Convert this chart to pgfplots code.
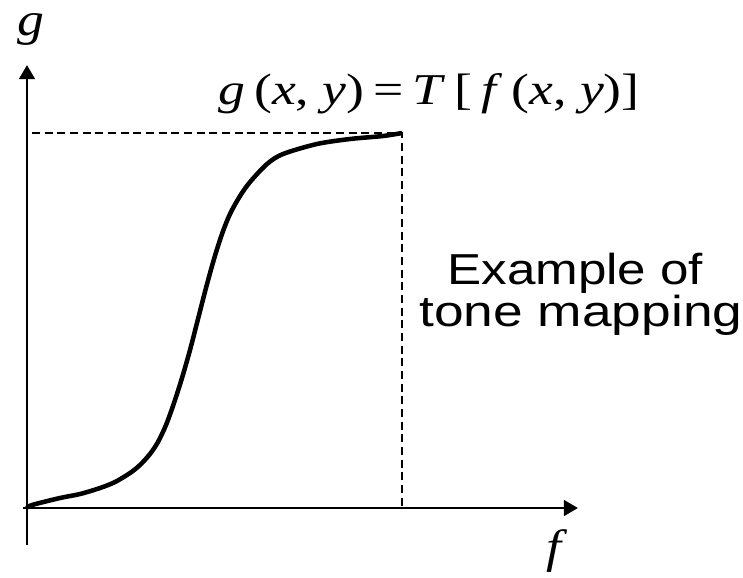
\documentclass[border=0pt]{standalone}
\usepackage{pgfplots}
\pgfplotsset{compat=1.18}
\usetikzlibrary{arrows.meta}
\usepackage{fontspec}
\setmainfont{Liberation Sans}
\newfontfamily\tmsfont{Liberation Serif}

% tone curve g = T[f], both normalised to [0,1]
\pgfplotstableread{
f       g
0.0000  0.0000
0.0133  0.0080
0.0880  0.0267
0.1413  0.0373
0.1947  0.0533
0.2347  0.0693
0.2747  0.0933
0.3013  0.1147
0.3280  0.1440
0.3493  0.1760
0.3707  0.2213
0.3920  0.2800
0.4133  0.3467
0.4347  0.4213
0.4560  0.5040
0.4773  0.5867
0.4987  0.6640
0.5200  0.7307
0.5413  0.7840
0.5680  0.8320
0.5947  0.8693
0.6400  0.9173
0.6827  0.9440
0.7733  0.9707
0.8613  0.9840
0.9493  0.9920
1.0000  1.0000
}\tonecurve

\begin{document}
\begin{tikzpicture}
\begin{axis}[
  x=281.25pt, y=281.25pt,
  axis lines=middle,
  xmin=-0.0107, xmax=1.469,
  ymin=-0.0987, ymax=1.181,
  xtick=\empty, ytick=\empty,
  axis line style={line width=1.1pt, -{Triangle[length=10.5pt,width=12pt]}},
  clip=false,
]
  % dashed frame of the mapping range
  \draw[line width=1.2pt, dash pattern=on 6pt off 3.5pt]
    (axis cs:0,0) rectangle (axis cs:1,1);
  \addplot[line width=3.4pt, smooth, no marks] table[x=f, y=g] {\tonecurve};

  \node[font=\tmsfont\fontsize{35}{40}\selectfont, xscale=1.15] at (axis cs:0.011,1.275) {\textit{g}};
  \node[font=\tmsfont\fontsize{35}{40}\selectfont, xscale=1.15] at (axis cs:1.413,-0.115) {\textit{f}};
  \node[anchor=base, font=\tmsfont\fontsize{33}{38}\selectfont, xscale=1.22] at (axis cs:1.072,1.077)
    {\textit{g}\,(\textit{x}, \textit{y})\,=\,\textit{T}\,[\,\textit{f}\,(\textit{x}, \textit{y})]};
  \node[anchor=base, font=\fontsize{32.5}{38}\selectfont, xscale=1.18] at (axis cs:1.462,0.595) {Example of};
  \node[anchor=base, font=\fontsize{32.5}{38}\selectfont, xscale=1.23] at (axis cs:1.477,0.483) {tone mapping};

  \coordinate (tl) at (axis cs:-0.072,1.3547);
  \coordinate (br) at (axis cs:1.9093,-0.184);
\end{axis}
\pgfresetboundingbox
\useasboundingbox (tl) rectangle (br);
\end{tikzpicture}
\end{document}
